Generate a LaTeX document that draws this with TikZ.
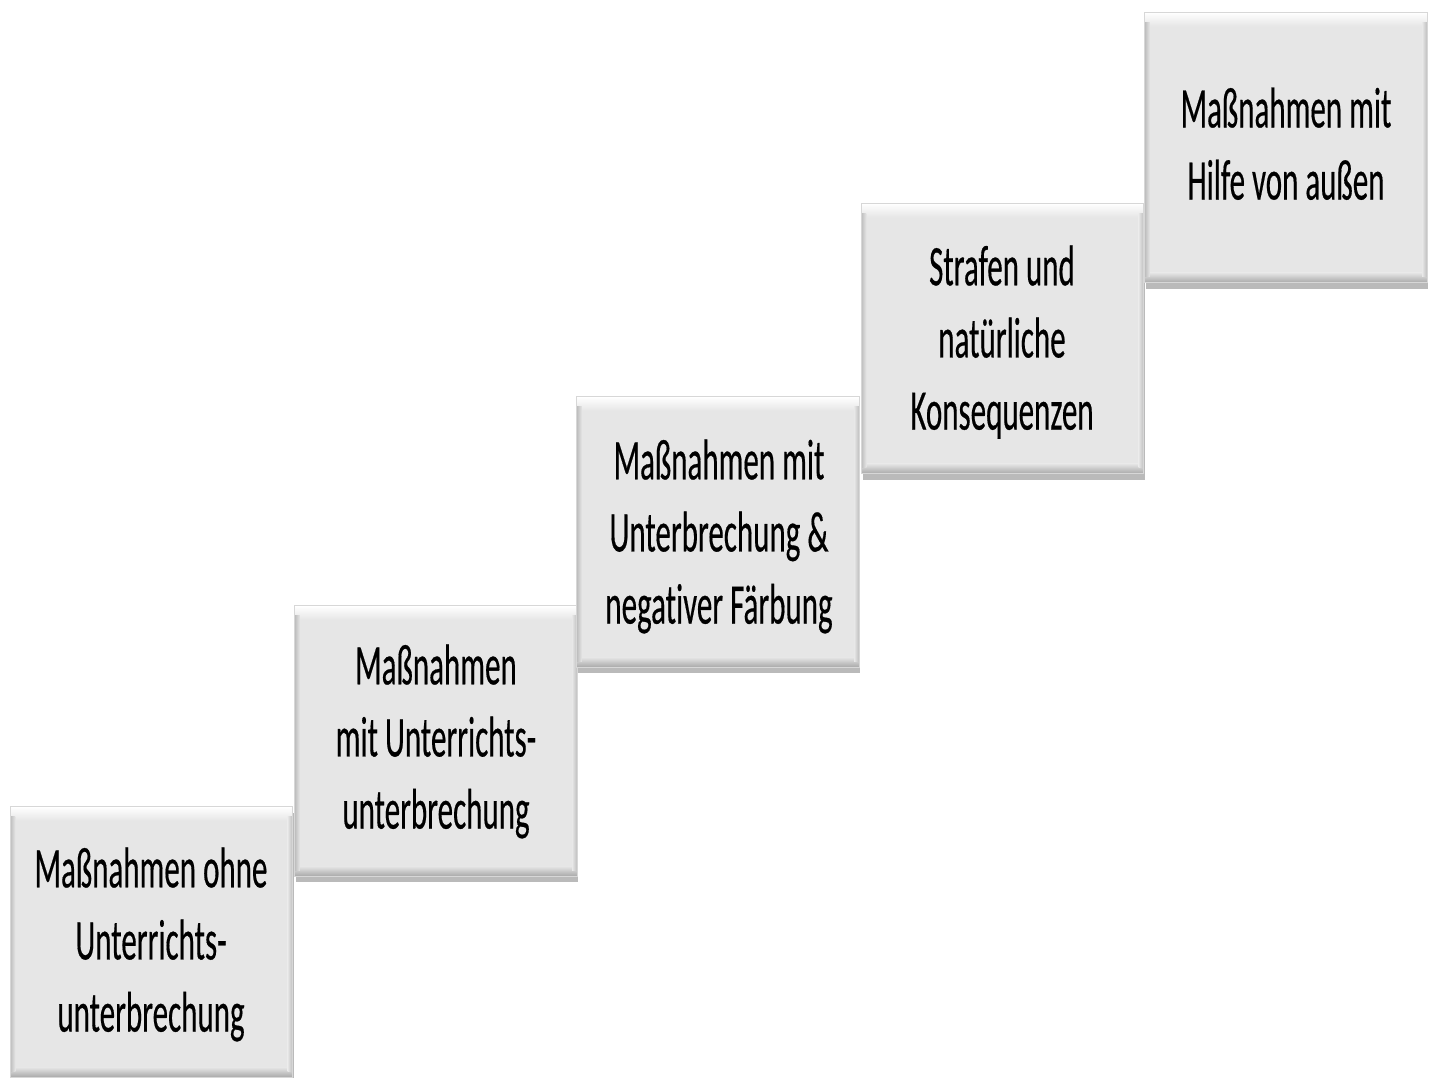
\documentclass[tikz,border=0pt]{standalone}
\usepackage{fontspec}
\setmainfont{Carlito}
\newfontfamily\boxfont[Ligatures={NoCommon},FakeBold=0.5]{Carlito}
\usetikzlibrary{shadows,calc}
\definecolor{boxfill}{HTML}{E6E6E6}
\definecolor{boxedge}{HTML}{BDBDBD}
\definecolor{boxdark}{HTML}{A8A8A8}
\tikzset{
  stepbox/.style={rectangle, fill=boxfill, inner sep=0pt,
    minimum width=282pt, minimum height=270pt,
    drop shadow={shadow xshift=1pt, shadow yshift=-6pt, opacity=0.45, fill=black!60}},
  steptext/.style={inner sep=0pt, align=center, text=black}
}
\newcommand{\boxtxt}[1]{\scalebox{1}[1.85]{\fontsize{31}{39}\boxfont\begin{tabular}{@{}c@{}}#1\end{tabular}}}
\newcommand{\bevel}[1]{%
  \shade[top color=white, bottom color=boxfill] (#1.north west) rectangle ($(#1.north east)+(0,-14pt)$);
  \shade[top color=boxfill, bottom color=boxdark] ($(#1.south west)+(0,10pt)$) rectangle (#1.south east);
  \shade[left color=boxedge, right color=boxfill] ($(#1.north west)+(0,-10pt)$) rectangle ($(#1.south west)+(5pt,6pt)$);
  \shade[left color=boxfill, right color=boxedge] ($(#1.north east)+(-5pt,-10pt)$) rectangle ($(#1.south east)+(0,6pt)$);
  \draw[boxedge!60, line width=0.8pt] (#1.south west) rectangle (#1.north east);
}
\begin{document}
\begin{tikzpicture}[x=1pt,y=-1pt]
\useasboundingbox (0,0) rectangle (1432,1077);
\fill[white] (0,0) rectangle (1432,1077);

\node[stepbox] (b1) at (151.5,942) {};
\bevel{b1}
\node[stepbox] (b2) at (436,741) {};
\bevel{b2}
\node[stepbox] (b3) at (718,532) {};
\bevel{b3}
\node[stepbox] (b4) at (1002.5,338.5) {};
\bevel{b4}
\node[stepbox] (b5) at (1286,147.5) {};
\bevel{b5}

\node[steptext] (t1) at (151,945) {\boxtxt{Maßnahmen ohne\\Unterrichts-\\unterbrechung}};
\node[steptext] (t2) at (436,742) {\boxtxt{Maßnahmen\\mit Unterrichts-\\unterbrechung}};
\node[steptext] (t3) at (719,537) {\boxtxt{Maßnahmen mit\\Unterbrechung \&\\negativer Färbung}};
\node[steptext] (t4) at (1002,343) {\boxtxt{Strafen und\\natürliche\\Konsequenzen}};
\node[steptext] (t5) at (1286,149) {\boxtxt{Maßnahmen mit\\Hilfe von außen}};
\end{tikzpicture}
\end{document}
